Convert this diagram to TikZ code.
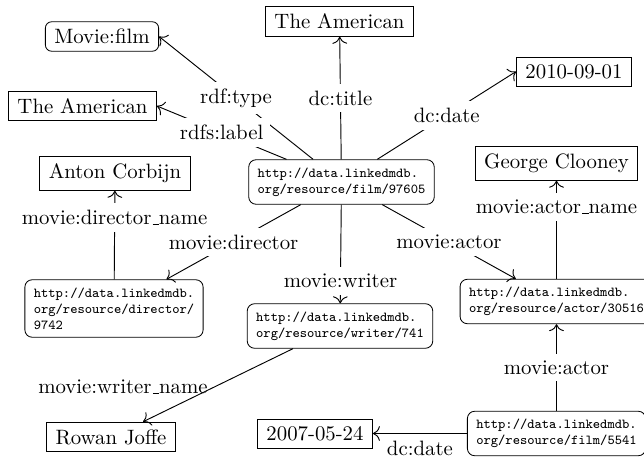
\documentclass[tikz,border=0pt]{standalone}
\usetikzlibrary{calc,arrows.meta}
\newcommand\usc{\leavevmode\kern.06em\vbox{\hrule width.3em}}
\begin{document}
\begin{tikzpicture}[x=0.4808pt,y=-0.4808pt,
  box/.style={draw, inner xsep=4.3pt, inner ysep=3.5pt},
  rbox/.style={box, rounded corners=3pt},
  uri/.style={draw, rounded corners=3.5pt, inner xsep=4.3pt, inner ysep=3.8pt, align=left, font=\fontsize{6.6}{7.7}\selectfont\ttfamily},
  lbl/.style={fill=white, inner sep=3.33pt},
  arr/.style={-{To[scale=1.3]}, line width=0.45pt}]
\useasboundingbox (0,0) rectangle (644,460);
% nodes
\node[rbox] (movfilm) at (102,36.5) {Movie:film};
\node[box] (titleT) at (339.5,21.5) {The American};
\node[box] (date1) at (574,71.5) {2010-09-01};
\node[box] (amerL) at (82.5,106) {The American};
\node[box] (anton) at (115,173.5) {Anton Corbijn};
\node[uri] (film) at (341.5,182) {http://data.linkedmdb.\\org/resource/film/97605};
\node[box] (clooney) at (556.5,163.5) {George Clooney};
\node[uri] (director) at (114,308.5) {http://data.linkedmdb.\\org/resource/director/\\9742};
\node[uri] (writer) at (340,326) {http://data.linkedmdb.\\org/resource/writer/741};
\node[uri] (actor) at (556.5,301.5) {http://data.linkedmdb.\\org/resource/actor/30516};
\node[box] (rowan) at (111,437) {Rowan Joffe};
\node[box] (date2) at (315,433.5) {2007-05-24};
\node[uri] (f5541) at (556.5,433.5) {http://data.linkedmdb.\\org/resource/film/5541};
% edges
\draw[arr] (film) -- node[lbl]{rdf:type} (movfilm.east);
\draw[arr] (film) -- node[lbl]{rdfs:label} (amerL.east);
\draw[arr] (film) -- node[lbl]{dc:title} (titleT);
\draw[arr] (film) -- node[lbl]{dc:date} (date1.west);
\draw[arr] (film) -- node[lbl]{movie:director} (director);
\draw[arr] (film) -- node[lbl]{movie:actor} (actor);
\draw[arr] (film) -- node[lbl,pos=0.77]{movie:writer} (writer);
\draw[arr] (director) -- node[lbl,pos=0.7]{movie:director\usc name} (anton);
\draw[arr] (actor) -- node[lbl,pos=0.73]{movie:actor\usc name} (clooney);
\draw[arr] (f5541) -- node[lbl]{movie:actor} (actor);
\draw[arr] (f5541) -- node[below]{dc:date} (date2);
\draw[arr] ([xshift=-22.6pt]writer.south) -- node[left,pos=0.52]{movie:writer\usc name} ([xshift=15.4pt]rowan.north);
\end{tikzpicture}
\end{document}
